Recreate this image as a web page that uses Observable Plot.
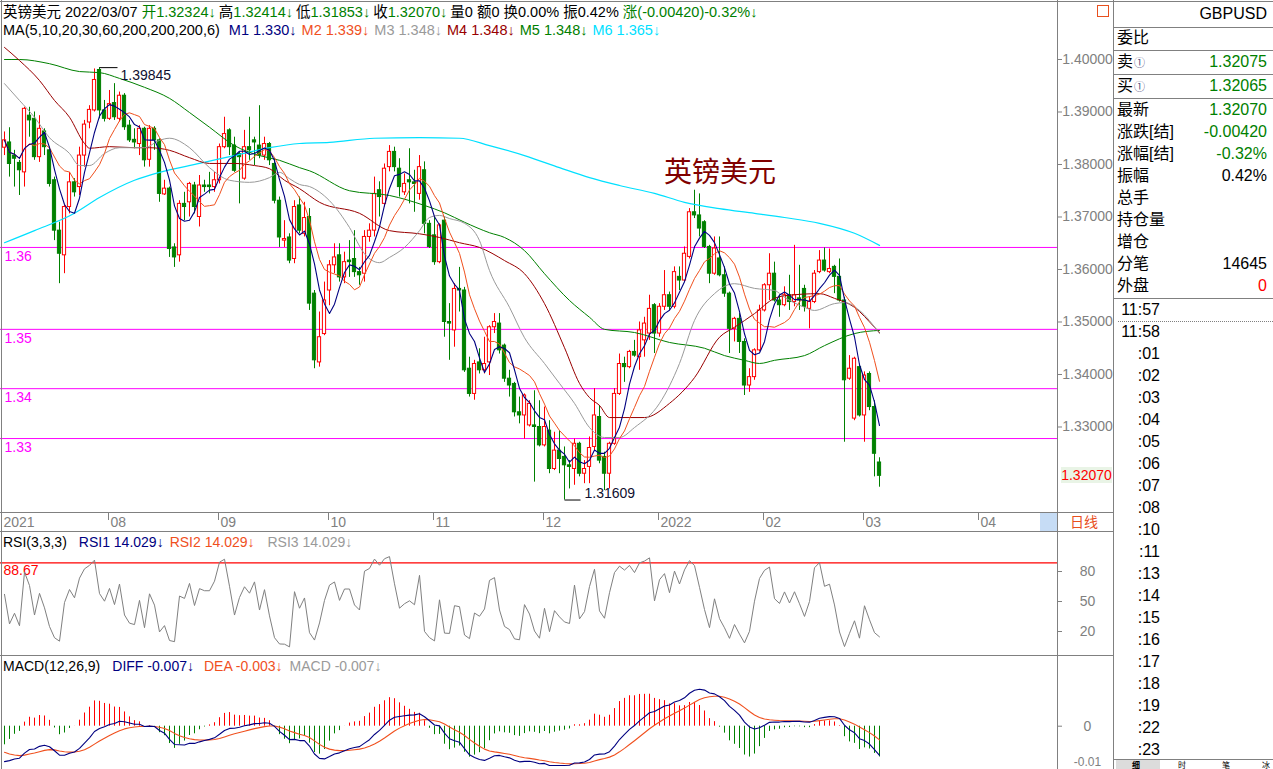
<!DOCTYPE html>
<html>
<head>
<meta charset="utf-8">
<title>英镑美元 GBPUSD 日线</title>
<script src="https://cdn.jsdelivr.net/npm/d3@7"></script>
<script src="https://cdn.jsdelivr.net/npm/@observablehq/plot@0.6"></script>
<style>
html,body{margin:0;padding:0;background:#fff;}
#root{position:relative;width:1273px;height:769px;overflow:hidden;background:#fff;font-family:"Liberation Sans",Arial,"Noto Sans CJK SC",sans-serif;font-size:14px;color:#000;}
.t{position:absolute;white-space:nowrap;line-height:16px;}
.r{position:absolute;white-space:nowrap;line-height:18px;font-size:16px;}
.h{position:absolute;height:0;border-top:1px solid #808080;}
.v{position:absolute;width:0;border-left:1px solid #808080;}
.g{color:#008000}
.a{margin-right:3px}
svg{overflow:visible}
</style>
</head>
<body>
<div id="root"></div>
<script>
// ---------------- DATA ----------------
const open = [1.3832,1.3842,1.3817,1.3803,1.3785,1.3893,1.3887,1.3814,1.3863,1.3827,
1.3770,1.3674,1.3627,1.3719,1.3766,1.3757,1.3817,1.3880,1.3903,1.3980,
1.3903,1.3887,1.3917,1.3887,1.3931,1.3874,1.3847,1.3839,1.3868,1.3809,
1.3868,1.3846,1.3743,1.3754,1.3642,1.3627,1.3725,1.3728,1.3760,1.3700,
1.3760,1.3760,1.3757,1.3770,1.3833,1.3865,1.3836,1.3820,1.3773,1.3833,
1.3846,1.3836,1.3817,1.3839,1.3801,1.3731,1.3655,1.3661,1.3620,1.3722,
1.3668,1.3700,1.3554,1.3423,1.3477,1.3560,1.3608,1.3627,1.3585,1.3617,
1.3620,1.3595,1.3592,1.3662,1.3674,1.3751,1.3725,1.3795,1.3824,1.3792,
1.3747,1.3770,1.3766,1.3744,1.3789,1.3687,1.3665,1.3614,1.3693,1.3500,
1.3484,1.3563,1.3560,1.3411,1.3363,1.3423,1.3408,1.3423,1.3490,1.3497,
1.3455,1.3392,1.3382,1.3328,1.3322,1.3303,1.3303,1.3300,1.3265,1.3293,
1.3220,1.3255,1.3243,1.3227,1.3220,1.3268,1.3211,1.3224,1.3262,1.3319,
1.3243,1.3211,1.3268,1.3363,1.3420,1.3414,1.3443,1.3433,1.3465,1.3478,
1.3532,1.3478,1.3529,1.3551,1.3529,1.3586,1.3579,1.3624,1.3709,1.3703,
1.3690,1.3643,1.3592,1.3621,1.3589,1.3554,1.3487,1.3506,1.3462,1.3379,
1.3395,1.3446,1.3522,1.3570,1.3592,1.3541,1.3532,1.3551,1.3538,1.3545,
1.3563,1.3525,1.3538,1.3595,1.3617,1.3595,1.3605,1.3586,1.3541,1.3392,
1.3316,1.3414,1.3322,1.3401,1.3338,1.32324];

const high = [1.3862,1.3870,1.3827,1.3808,1.3909,1.3909,1.3900,1.3893,1.3868,1.3833,
1.3776,1.3690,1.3722,1.3785,1.3773,1.3833,1.3884,1.3912,1.3982,1.39845,
1.3922,1.3941,1.3954,1.3938,1.3935,1.3884,1.3868,1.3874,1.3871,1.3874,
1.3872,1.3849,1.3770,1.3757,1.3649,1.3731,1.3747,1.3766,1.3766,1.3779,
1.3770,1.3785,1.3785,1.3839,1.3890,1.3868,1.3852,1.3823,1.3865,1.3890,
1.3852,1.3912,1.3852,1.3842,1.3811,1.3738,1.3693,1.3668,1.3731,1.3738,
1.3728,1.3716,1.3560,1.3519,1.3576,1.3617,1.3649,1.3649,1.3633,1.3655,
1.3674,1.3604,1.3674,1.3687,1.3776,1.3767,1.3801,1.3836,1.3833,1.3811,
1.3782,1.3830,1.3789,1.3817,1.3805,1.3693,1.3700,1.3687,1.3700,1.3535,
1.3573,1.3604,1.3566,1.3433,1.3427,1.3449,1.3471,1.3493,1.3516,1.3516,
1.3458,1.3408,1.3385,1.3357,1.3363,1.3350,1.3369,1.3350,1.3338,1.3312,
1.3290,1.3293,1.3262,1.3236,1.3277,1.3271,1.3236,1.3281,1.3373,1.3341,
1.3252,1.3271,1.3373,1.3439,1.3433,1.3446,1.3465,1.3500,1.3509,1.3551,
1.3535,1.3535,1.3598,1.3557,1.3605,1.3605,1.3643,1.3716,1.3751,1.3744,
1.3693,1.3646,1.3662,1.3662,1.3605,1.3557,1.3509,1.3516,1.3468,1.3411,
1.3449,1.3532,1.3573,1.3630,1.3614,1.3551,1.3567,1.3589,1.3646,1.3608,
1.3570,1.3548,1.3598,1.3636,1.3641,1.3639,1.3608,1.3620,1.3547,1.3436,
1.3433,1.3420,1.3405,1.3405,1.3350,1.32414];

const low = [1.3817,1.3776,1.3757,1.3741,1.3757,1.3852,1.3808,1.3804,1.3817,1.3757,
1.3655,1.3573,1.3592,1.3706,1.3738,1.3741,1.3795,1.3868,1.3900,1.3887,
1.3881,1.3884,1.3884,1.3881,1.3865,1.3842,1.3830,1.3817,1.3795,1.3795,
1.3827,1.3728,1.3741,1.3623,1.3604,1.3614,1.3693,1.3700,1.3706,1.3681,
1.3747,1.3744,1.3747,1.3763,1.3830,1.3817,1.3785,1.3725,1.3770,1.3808,
1.3798,1.3811,1.3808,1.3798,1.3725,1.3642,1.3642,1.3611,1.3611,1.3668,
1.3662,1.3522,1.3411,1.3414,1.3474,1.3531,1.3592,1.3576,1.3573,1.3585,
1.3585,1.3570,1.3576,1.3652,1.3662,1.3700,1.3719,1.3786,1.3786,1.3738,
1.3741,1.3725,1.3709,1.3732,1.3668,1.3640,1.3608,1.3611,1.3471,1.3427,
1.3452,1.3519,1.3404,1.3357,1.3351,1.3401,1.3401,1.3398,1.3478,1.3439,
1.3385,1.3357,1.3319,1.3306,1.3277,1.3300,1.3195,1.3262,1.3262,1.3211,
1.3217,1.3211,1.31609,1.3182,1.3189,1.3205,1.3192,1.3192,1.3255,1.3230,
1.3179,1.3182,1.3265,1.3360,1.3385,1.3411,1.3433,1.3408,1.3433,1.3465,
1.3440,1.3471,1.3522,1.3522,1.3525,1.3560,1.3576,1.3620,1.3697,1.3662,
1.3640,1.3573,1.3589,1.3586,1.3547,1.3440,1.3462,1.3440,1.3360,1.3366,
1.3389,1.3443,1.3519,1.3541,1.3538,1.3509,1.3529,1.3522,1.3529,1.3522,
1.3519,1.3487,1.3535,1.3592,1.3595,1.3592,1.3554,1.3538,1.3271,1.3389,
1.3312,1.3319,1.3271,1.3331,1.3205,1.31853];

const close = [1.3846,1.3801,1.3811,1.3789,1.3906,1.3884,1.3814,1.3868,1.3833,1.3763,
1.3674,1.3630,1.3719,1.3766,1.3747,1.3817,1.3876,1.3904,1.3961,1.3903,
1.3887,1.3915,1.3890,1.3931,1.3871,1.3846,1.3842,1.3868,1.3808,1.3868,
1.3846,1.3744,1.3754,1.3639,1.3623,1.3725,1.3719,1.3763,1.3719,1.3760,
1.3757,1.3757,1.3770,1.3833,1.3858,1.3833,1.3788,1.3814,1.3833,1.3827,
1.3842,1.3817,1.3839,1.3808,1.3731,1.3661,1.3658,1.3617,1.3719,1.3674,
1.3698,1.3535,1.3427,1.3471,1.3541,1.3608,1.3623,1.3585,1.3614,1.3614,
1.3595,1.3589,1.3662,1.3674,1.3744,1.3738,1.3792,1.3824,1.3795,1.3757,
1.3763,1.3766,1.3763,1.3795,1.3687,1.3643,1.3614,1.3684,1.3500,1.3497,
1.3563,1.3560,1.3408,1.3363,1.3420,1.3408,1.3420,1.3490,1.3500,1.3446,
1.3392,1.3379,1.3328,1.3322,1.3360,1.3344,1.3300,1.3265,1.3300,1.3220,
1.3255,1.3239,1.3227,1.3224,1.3268,1.3211,1.3220,1.3260,1.3322,1.3236,
1.3211,1.3268,1.3363,1.3420,1.3414,1.3443,1.3436,1.3484,1.3497,1.3525,
1.3478,1.3529,1.3551,1.3529,1.3595,1.3579,1.3630,1.3709,1.3703,1.3678,
1.3643,1.3592,1.3640,1.3589,1.3554,1.3487,1.3506,1.3462,1.3379,1.3395,
1.3446,1.3522,1.3570,1.3592,1.3541,1.3532,1.3551,1.3538,1.3551,1.3541,
1.3529,1.3538,1.3592,1.3617,1.3598,1.3601,1.3586,1.3541,1.3389,1.3411,
1.3430,1.3322,1.3398,1.3338,1.3249,1.32070];

// month labels of the date strip and the bar where each month starts
const monthLabels = ["2021","08","09","10","11","12","2022","02","03","04"];
const monthBars   = [0, 20, 42, 64, 85, 107, 130, 151, 171, 194];

// longer moving averages: [bar, value]
const ma3 = [[0,1.3954],[3,1.3922],[6,1.3890],[9,1.3851],[13,1.3821],[15,1.3798],[17,1.3798],[20,1.3821],[23,1.3832],[28,1.3832],[31,1.3846],[33,1.3850],[37,1.3832],[41,1.3794],[45,1.3770],[49,1.3766],[53,1.3775],[55,1.3785],[57,1.3773],[59,1.3762],[61,1.3758],[65,1.3731],[69,1.3680],[72,1.3630],[75,1.3613],[77,1.3623],[80,1.3642],[83,1.3674],[85,1.3699],[87,1.3703],[89,1.3697],[92,1.3688],[95,1.3655],[97,1.3598],[101,1.3528],[104,1.3470],[108,1.3421],[111,1.3383],[114,1.3345],[117,1.3299],[120,1.3280],[123,1.3280],[126,1.3299],[131,1.3345],[135,1.3421],[138,1.3503],[142,1.3554],[146,1.3573],[150,1.3564],[154,1.3560],[156,1.3547],[160,1.3528],[162,1.3522],[166,1.3535],[168,1.3537],[171,1.3522],[175,1.3478]];
const ma4 = [[0,1.4023],[3,1.3998],[7,1.3960],[10,1.3922],[13,1.3890],[16,1.3840],[17,1.3831],[21,1.3834],[26,1.3832],[29,1.3832],[33,1.3827],[37,1.3813],[41,1.3802],[46,1.3802],[50,1.3798],[53,1.3792],[56,1.3770],[59,1.3754],[63,1.3728],[71,1.3707],[77,1.3674],[83,1.3668],[87,1.3661],[91,1.3651],[95,1.3642],[100,1.3617],[104,1.3592],[108,1.3535],[112,1.3451],[115,1.3383],[117,1.3356],[119,1.3341],[121,1.3318],[128,1.3318],[133,1.3345],[138,1.3394],[143,1.3471],[146,1.3490],[150,1.3516],[154,1.3545],[156,1.3550],[163,1.3554],[166,1.3545],[170,1.3528],[174,1.3490],[175,1.3480]];
const ma5 = [[0,1.4000],[3,1.4000],[9,1.3992],[15,1.3977],[19,1.3975],[23,1.3964],[28,1.3947],[33,1.3926],[37,1.3899],[41,1.3871],[46,1.3836],[51,1.3817],[55,1.3808],[59,1.3794],[61,1.3788],[69,1.3750],[77,1.3741],[84,1.3722],[88,1.3708],[92,1.3690],[97,1.3670],[100,1.3661],[104,1.3636],[108,1.3592],[113,1.3541],[117,1.3509],[120,1.3486],[126,1.3480],[133,1.3461],[140,1.3450],[144,1.3436],[148,1.3427],[151,1.3421],[154,1.3427],[160,1.3436],[164,1.3455],[170,1.3478],[175,1.3484]];
const ma6 = [[0,1.3651],[6,1.3674],[14,1.3707],[19,1.3737],[26,1.3770],[31,1.3785],[39,1.3802],[46,1.3817],[53,1.3832],[59,1.3840],[65,1.3842],[74,1.3850],[83,1.3851],[91,1.3850],[97,1.3836],[104,1.3817],[111,1.3794],[117,1.3775],[123,1.3760],[130,1.3745],[136,1.3728],[143,1.3716],[150,1.3707],[156,1.3699],[163,1.3688],[170,1.3669],[175,1.3646]];

// user-drawn horizontal guide lines
const guideLevels = [1.3642, 1.3486, 1.3373, 1.3278];
const guideLabels = ["1.36", "1.35", "1.34", "1.33"];
const rsiGuide = 88.67;

const rsiSeed = [0.0012, 0.0021];          // smoothed up-move, smoothed abs-move
const macdSeed = {diff: -0.0080, dea: -0.0059};

// axis ticks
const priceTicks = [1.33, 1.34, 1.35, 1.36, 1.37, 1.38, 1.39, 1.40];
const rsiTicks = [20, 50, 80];
const macdTicks = [0];
const macdLowTick = [-0.01];

// legend texts
const rsiLegend = ["14.029", "14.029", "14.029"];
const macdLegend = ["-0.007", "-0.003", "-0.007"];
const times = ["11:57","11:58",":01",":02",":03",":04",":05",":06",":07",":08",":10",":11",":13",":14",":15",":16",":17",":18",":19",":22",":23"];
const tabs = ["细", "时", "笔", "冰"];

// ---------------- STYLE ----------------
const RED = "#ff0000", GREEN = "#008000", NAVY = "#000080", ORANGE = "#f0501e",
      GREY = "#9a9a9a", DARKRED = "#990000", MGREEN = "#008000", CYAN = "#00e0ff",
      MAGENTA = "#ff00ff", AXIS = "#808080";
const FONT = '"Liberation Sans", Arial, "Noto Sans CJK SC", sans-serif';
const X_DOMAIN = [-0.8, 210.6];
const plotStyle = {background: "transparent", fontFamily: FONT, fontSize: "14px", overflow: "visible"};

const root = document.getElementById("root");
function place(el, left, top) {
  el.style.position = "absolute"; el.style.left = left + "px"; el.style.top = top + "px";
  root.appendChild(el); return el;
}
function div(cls, css, html) {
  const d = document.createElement("div"); d.className = cls; d.style.cssText = css; if (html != null) d.innerHTML = html;
  root.appendChild(d); return d;
}

// ---------------- DERIVED ----------------
const N = close.length, last = N - 1;
const candles = close.map((c, i) => ({i, open: open[i], high: high[i], low: low[i], close: c}));
const ups = candles.filter(d => d.close >= d.open);
const downs = candles.filter(d => d.close < d.open);
const hiBar = candles[d3.maxIndex(high)];
const loBar = candles[d3.minIndex(low)];

// RSI(3) (SMA smoothing as in Chinese trading software)
const rsi = [];
{
  let su = rsiSeed[0], sa = rsiSeed[1];
  rsi.push({i: 0, v: su / sa * 100});
  for (let i = 1; i < N; i++) {
    const d = close[i] - close[i - 1];
    su = (Math.max(d, 0) + 2 * su) / 3;
    sa = (Math.abs(d) + 2 * sa) / 3;
    rsi.push({i, v: sa > 0 ? su / sa * 100 : 50});
  }
}
// MACD(12,26,9)
const macd = [];
{
  let e12 = close[0], e26 = close[0] - macdSeed.diff, dea = macdSeed.dea;
  macd.push({i: 0, diff: macdSeed.diff, dea, m: 2 * (macdSeed.diff - dea)});
  for (let i = 1; i < N; i++) {
    e12 = (2 * close[i] + 11 * e12) / 13;
    e26 = (2 * close[i] + 25 * e26) / 27;
    const diff = e12 - e26;
    dea = (2 * diff + 8 * dea) / 10;
    macd.push({i, diff, dea, m: 2 * (diff - dea)});
  }
}

// ---------------- MAIN PRICE PANEL ----------------
const maLine = (arr, color, w = 1) => Plot.line(arr, {x: d => d[0], y: d => d[1], stroke: color, strokeWidth: w, curve: "monotone-x"});
const main = Plot.plot({
  width: 1113, height: 472, marginLeft: 0, marginRight: 56, marginTop: 0, marginBottom: 0,
  style: plotStyle,
  x: {domain: X_DOMAIN, axis: null},
  y: {domain: [1.313714, 1.403619], axis: null},
  marks: [
    Plot.ruleY(guideLevels, {stroke: MAGENTA}),
    Plot.text(guideLevels, {y: d => d, text: (d, i) => guideLabels[i], frameAnchor: "left", textAnchor: "start", dx: 4, dy: 9, fill: MAGENTA, fontSize: 14}),
    Plot.ruleX(downs, {x: "i", y1: "low", y2: "high", stroke: GREEN}),
    Plot.ruleX(ups, {x: "i", y1: "low", y2: "high", stroke: RED}),
    Plot.rect(downs, {x1: d => d.i - 0.32, x2: d => d.i + 0.32, y1: "open", y2: "close", fill: GREEN, stroke: GREEN}),
    Plot.rect(ups, {x1: d => d.i - 0.32, x2: d => d.i + 0.32, y1: "open", y2: "close", fill: "white", stroke: RED}),
    maLine(ma6, CYAN, 1.2),
    maLine(ma5, MGREEN),
    maLine(ma4, DARKRED),
    maLine(ma3, GREY),
    Plot.line(candles, Plot.windowY({k: 10, anchor: "end", reduce: "mean"}, {x: "i", y: "close", stroke: ORANGE, strokeWidth: 1})),
    Plot.line(candles, Plot.windowY({k: 5, anchor: "end", reduce: "mean"}, {x: "i", y: "close", stroke: NAVY, strokeWidth: 1.1})),
    Plot.link([hiBar], {x1: "i", x2: d => d.i + 3.6, y1: "high", y2: "high", stroke: "#000"}),
    Plot.text([hiBar], {x: d => d.i + 3.6, y: "high", text: d => d.high.toFixed(5), textAnchor: "start", dx: 3, dy: 8, fill: "#101030", fontSize: 14}),
    Plot.link([loBar], {x1: "i", x2: d => d.i + 3.2, y1: "low", y2: "low", stroke: "#000"}),
    Plot.text([loBar], {x: d => d.i + 3.2, y: "low", text: d => d.low.toFixed(5), textAnchor: "start", dx: 4, dy: -7, fill: "#101030", fontSize: 14}),
    Plot.axisY(priceTicks, {anchor: "right", tickSize: 4, tickPadding: 26, textAnchor: "middle", tickFormat: d => d.toFixed(5), color: AXIS, label: null, fontSize: 14})
  ]
});
place(main, 0, 40);

// last price tag on the axis
{
  const y = 40 + main.scale("y").apply(close[last]);
  div("t", `left:1061px;top:${Math.round(y - 8)}px;width:51px;height:16px;background:#e9f4e6;color:#ff0000;text-align:center;`, close[last].toFixed(5));
}

// ---------------- DATE STRIP ----------------
const strip = Plot.plot({
  width: 1057, height: 18, marginLeft: 0, marginRight: 0, marginTop: 0, marginBottom: 0,
  style: plotStyle,
  x: {domain: X_DOMAIN, axis: null},
  y: {domain: [0, 18], range: [0, 18], axis: null},
  marks: [
    Plot.ruleX(monthBars.slice(1), {x: d => d, y1: 0, y2: 7, dx: 4, stroke: AXIS}),
    Plot.text(monthBars.slice(1), {x: d => d, y: 9, text: (d, i) => monthLabels[i + 1], textAnchor: "start", dx: 6, fill: AXIS, fontSize: 14}),
    Plot.text(monthBars.slice(0, 1), {x: d => d, y: 9, text: (d, i) => monthLabels[i], textAnchor: "start", dx: -1, fill: AXIS, fontSize: 14})
  ]
});
place(strip, 0, 513);

// ---------------- RSI PANEL ----------------
const rsiPlot = Plot.plot({
  width: 1113, height: 124, marginLeft: 0, marginRight: 56, marginTop: 0, marginBottom: 0,
  style: plotStyle,
  x: {domain: X_DOMAIN, axis: null},
  y: {domain: [-4, 120], axis: null},
  marks: [
    Plot.ruleY([rsiGuide], {stroke: RED, strokeWidth: 1.3}),
    Plot.text([rsiGuide], {y: d => d, text: d => d.toFixed(2), frameAnchor: "left", textAnchor: "start", dx: 3, dy: 8, fill: RED, fontSize: 14}),
    Plot.line(rsi, {x: "i", y: "v", stroke: "#808080", strokeWidth: 1}),
    Plot.axisY(rsiTicks, {anchor: "right", tickSize: 4, tickPadding: 26, textAnchor: "middle", color: AXIS, label: null, fontSize: 14})
  ]
});
place(rsiPlot, 0, 531);

// ---------------- MACD PANEL ----------------
const macdPlot = Plot.plot({
  width: 1113, height: 114, marginLeft: 0, marginRight: 56, marginTop: 0, marginBottom: 0,
  style: plotStyle,
  x: {domain: X_DOMAIN, axis: null},
  y: {domain: [-0.009774, 0.01596], axis: null},
  marks: [
    Plot.ruleX(macd.filter(d => d.m >= 0), {x: "i", y1: 0, y2: "m", stroke: RED}),
    Plot.ruleX(macd.filter(d => d.m < 0), {x: "i", y1: 0, y2: "m", stroke: GREEN}),
    Plot.line(macd, {x: "i", y: "dea", stroke: ORANGE, strokeWidth: 1.1}),
    Plot.line(macd, {x: "i", y: "diff", stroke: NAVY, strokeWidth: 1.1}),
    Plot.axisY(macdTicks, {anchor: "right", tickSize: 4, tickPadding: 26, textAnchor: "middle", tickFormat: d => d === 0 ? "0" : d.toFixed(2), color: AXIS, label: null, fontSize: 14}),
    // the lowest tick sits at the window's bottom edge: keep its label just inside
    Plot.text(macdLowTick, {y: d => d, text: d => d.toFixed(2), frameAnchor: "right", dx: 30, dy: -8, textAnchor: "middle", fill: AXIS, fontSize: 12})
  ]
});
place(macdPlot, 0, 655);

// ---------------- FRAME LINES ----------------
div("h", "left:0;top:1px;width:1273px;");
div("v", "left:1px;top:0;height:769px;");
div("v", "left:1057px;top:0;height:769px;");
div("v", "left:1113px;top:0;height:769px;");
div("h", "left:0;top:512px;width:1113px;");
div("h", "left:0;top:531px;width:1113px;");
div("h", "left:0;top:655px;width:1113px;");
div("", "position:absolute;left:1040px;top:513px;width:17px;height:18px;background:#c6dcf5;");
div("t", "left:1070px;top:513px;color:#e8501e;font-family:'Noto Sans CJK SC';font-size:14px;", "日线");
div("", "position:absolute;left:1097px;top:5px;width:10px;height:10px;border:1.5px solid #e8501e;");

// ---------------- HEADER ----------------
const f5 = v => v.toFixed(5);
const arr = '<span class="a">↓</span>';
div("t", "left:3px;top:4px;font-size:14.5px;",
  `英镑美元 2022/03/07 <span class="g">开${f5(open[last])}${arr}</span>高<span class="g">${f5(high[last])}${arr}</span>低<span class="g">${f5(low[last])}${arr}</span>收<span class="g">${f5(close[last])}${arr}</span>量0 额0 换0.00% 振0.42% <span class="g">涨(-0.00420)-0.32%↓</span>`);
{
  const m1 = d3.mean(close.slice(-5)), m2 = d3.mean(close.slice(-10));
  const items = [["M1", m1, NAVY], ["M2", m2, ORANGE], ["M3", ma3[ma3.length - 1][1], GREY],
                 ["M4", ma4[ma4.length - 1][1], DARKRED], ["M5", ma5[ma5.length - 1][1], MGREEN], ["M6", ma6[ma6.length - 1][1], CYAN]];
  div("t", "left:3px;top:22px;font-size:14.5px;",
    "MA(5,10,20,30,60,200,200,200,6)" + items.map(([k, v, c], j) => `<span style="color:${c};margin-left:${j === 0 ? 9 : 5}px">${k} ${v.toFixed(3)}↓</span>`).join(""));
}
div("t", "left:3px;top:534px;",
  `RSI(3,3,3)<span style="color:${NAVY};margin-left:12px">RSI1 ${rsiLegend[0]}↓</span><span style="color:${ORANGE};margin-left:6px">RSI2 ${rsiLegend[1]}↓</span><span style="color:${GREY};margin-left:13px">RSI3 ${rsiLegend[2]}↓</span>`);
div("t", "left:3px;top:658px;",
  `MACD(12,26,9)<span style="color:${NAVY};margin-left:12px">DIFF ${macdLegend[0]}↓</span><span style="color:${ORANGE};margin-left:10px">DEA ${macdLegend[1]}↓</span><span style="color:${GREY};margin-left:7px">MACD ${macdLegend[2]}↓</span>`);

// big title
div("t", "left:664px;top:153px;font-family:'Noto Sans CJK SC';font-size:28px;line-height:34px;color:#800000;", "英镑美元");

// ---------------- RIGHT INFO PANEL ----------------
div("r", "right:6px;top:5px;", "GBPUSD");
[27, 50, 74, 98, 298].forEach(y => div("h", `left:1113px;top:${y}px;width:160px;`));
const circ = '<span style="font-size:11px;color:#505080;margin-left:1px">①</span>';
const rows = [
  ["委比", "", "#000", 38],
  ["卖" + circ, "1.32075", GREEN, 62],
  ["买" + circ, "1.32065", GREEN, 86],
  ["最新", f5(close[last]), GREEN, 110],
  ["涨跌[结]", "-0.00420", GREEN, 132],
  ["涨幅[结]", "-0.32%", GREEN, 154],
  ["振幅", "0.42%", "#000", 176],
  ["总手", "", "#000", 198],
  ["持仓量", "", "#000", 220],
  ["增仓", "", "#000", 242],
  ["分笔", "14645", "#000", 264],
  ["外盘", "0", RED, 286]
];
rows.forEach(([k, v, c, y]) => {
  div("r", `left:1117px;top:${y - 9}px;`, k);
  if (v) div("r", `right:6px;top:${y - 9}px;color:${c};`, v);
});
times.forEach((t, i) => div("r", `right:113px;top:${310 + i * 22 - 9}px;`, t));
div("", "position:absolute;left:1118px;top:321px;width:155px;height:0;border-top:1px dotted #808080;");
// bottom tabs
div("h", "left:1113px;top:759px;width:160px;");
div("", "position:absolute;left:1116px;top:760px;width:44px;height:9px;background:#dcdcdc;");
[1132, 1178, 1222, 1262].forEach((x, j) =>
  div("", `position:absolute;left:${x}px;top:760px;font-size:8px;line-height:9px;white-space:nowrap;font-family:'Noto Sans CJK SC';${j === 0 ? "font-weight:bold;" : ""}`, tabs[j]));
</script>
</body>
</html>
